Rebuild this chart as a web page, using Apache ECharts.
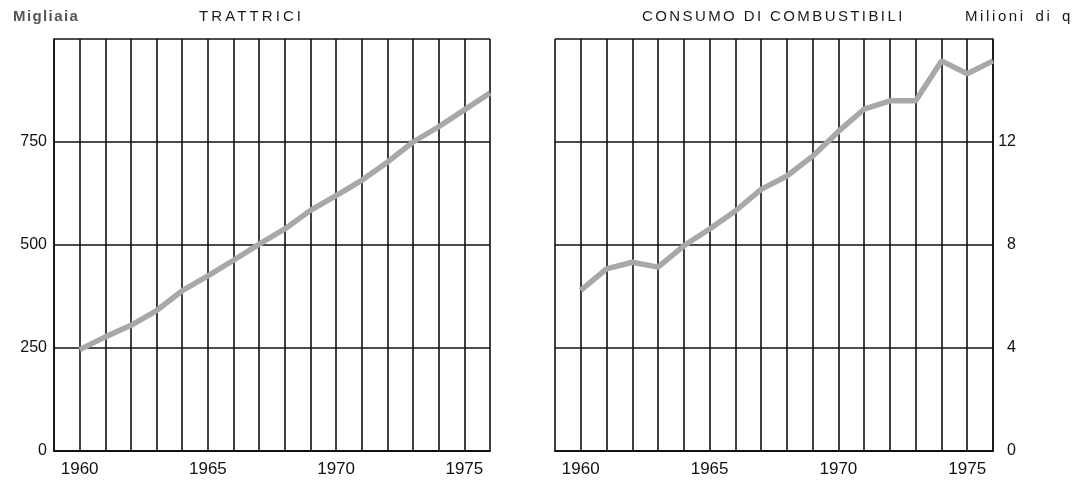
<!DOCTYPE html>
<html><head><meta charset="utf-8">
<script src="https://cdn.jsdelivr.net/npm/echarts@6/dist/echarts.min.js"></script>
<style>
html,body{margin:0;padding:0;background:#fff}
#wrap{position:relative;width:1072px;height:484px}
#c{width:1072px;height:484px}
.hd{position:absolute;top:7px;font-family:'Liberation Sans',Arial,sans-serif;font-size:15px;line-height:18px;color:#1a1a1a;white-space:nowrap}
</style>
</head><body><div id="wrap"><div id="c"></div>
<div class="hd" id="uL" style="left:13px;font-weight:bold;color:#555;letter-spacing:1.4px"></div>
<div class="hd" id="tL" style="left:199px;letter-spacing:3.1px"></div>
<div class="hd" id="tR" style="left:642px;letter-spacing:2.4px"></div>
<div class="hd" id="uR" style="left:965px;letter-spacing:2.6px;word-spacing:3px"></div>
</div>
<script>
const years = [1960,1961,1962,1963,1964,1965,1966,1967,1968,1969,1970,1971,1972,1973,1974,1975,1976];
const trattrici = [246,277,305,341,389,425,463,502,539,584,620,657,701,750,787,828,869];
const combustibili = [6.24,7.07,7.33,7.14,7.97,8.62,9.32,10.16,10.68,11.45,12.41,13.28,13.6,13.6,15.15,14.65,15.15];
const yearLabels = [1960,1965,1970,1975];
const leftTicks = [0,250,500,750];
const rightTicks = [0,4,8,12];
const titles = {left:'TRATTRICI', right:'CONSUMO DI COMBUSTIBILI', unitLeft:'Migliaia', unitRight:'Milioni di q'};

document.getElementById('uL').textContent = titles.unitLeft;
document.getElementById('tL').textContent = titles.left;
document.getElementById('tR').textContent = titles.right;
document.getElementById('uR').textContent = titles.unitRight;

const FONT = 'Liberation Sans';
const gridLine = {show:true, lineStyle:{color:'#111', width:1.6}};
function xAxis(gi){
  return {type:'value', gridIndex:gi, min:1959, max:1976, interval:1,
    axisLine:{show:true, onZero:false, lineStyle:{color:'#111', width:2}},
    axisTick:{show:false}, splitLine:gridLine,
    axisLabel:{show:true, margin:10, fontFamily:FONT, fontSize:17, color:'#111',
      formatter:v=>yearLabels.includes(v)?String(v):''}};
}
function yAxis(gi, max, interval, ticks, pos){
  return {type:'value', gridIndex:gi, min:0, max:max, interval:interval, position:pos,
    axisLine:{show:true, lineStyle:{color:'#111', width:1.6}},
    axisTick:{show:false}, splitLine:gridLine,
    axisLabel:{show:true, margin:pos==='left'?7:23, align:'right', fontFamily:FONT, fontSize:16, color:'#111',
      padding:[0,0,4,0],
      formatter:v=>ticks.includes(v)?String(v):''}};
}
const chart = echarts.init(document.getElementById('c'), null, {renderer:'canvas'});
chart.setOption({
  animation:false,
  backgroundColor:'#fff',
  textStyle:{fontFamily:FONT},
  grid:[
    {left:54, right:582, top:39, bottom:33},
    {left:555, right:79, top:39, bottom:33}
  ],
  xAxis:[xAxis(0), xAxis(1)],
  yAxis:[yAxis(0,1000,250,leftTicks,'left'), yAxis(1,16,4,rightTicks,'right')],
  series:[
    {type:'line', xAxisIndex:0, yAxisIndex:0, data:years.map((y,i)=>[y,trattrici[i]]),
      showSymbol:false, lineStyle:{color:'#a8a8a8', width:5.5}, z:5},
    {type:'line', xAxisIndex:1, yAxisIndex:1, data:years.map((y,i)=>[y,combustibili[i]]),
      showSymbol:false, lineStyle:{color:'#a8a8a8', width:5.5}, z:5}
  ]
});
</script></body></html>
